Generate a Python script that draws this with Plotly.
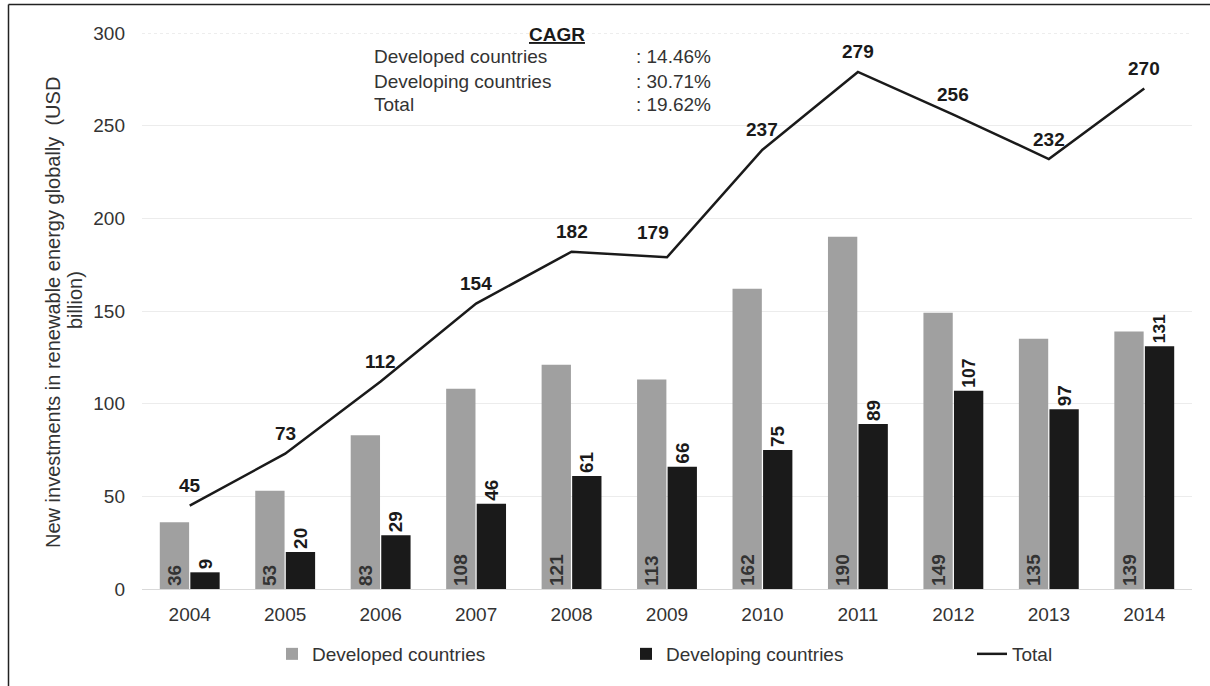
import plotly.graph_objects as go

# Yearly investment data (USD billion)
years = ["2004", "2005", "2006", "2007", "2008", "2009", "2010", "2011", "2012", "2013", "2014"]
developed = [36, 53, 83, 108, 121, 113, 162, 190, 149, 135, 139]
developing = [9, 20, 29, 46, 61, 66, 75, 89, 107, 97, 131]
total = [45, 73, 112, 154, 182, 179, 237, 279, 256, 232, 270]

y_ticks = [0, 50, 100, 150, 200, 250, 300]

cagr_labels = ["Developed countries", "Developing countries", "Total"]
cagr_values = [": 14.46%", ": 30.71%", ": 19.62%"]

FONT = "Liberation Sans, Arial, sans-serif"
GRAY = "#a0a0a0"
DARK = "#1a1a1a"
TEXT = "#333333"
FS = 19

# plot-area geometry in pixels
W, H = 1210, 686
L, R, T, B = 142, 18, 33, 97
pw, ph = W - L - R, H - T - B


def px_x(x):
    return (x - L) / pw


def px_y(y):
    return (H - B - y) / ph


fig = go.Figure()

fig.add_trace(go.Bar(
    x=years, y=developed, name="Developed countries",
    marker=dict(color=GRAY, line=dict(width=0)),
    text=[str(v) for v in developed], textposition="inside",
    insidetextanchor="start", textangle=-90,
    textfont=dict(family=FONT, size=FS, color=TEXT, weight="bold"),
    legend="legend",
))

fig.add_trace(go.Bar(
    x=years, y=developing, name="Developing countries",
    marker=dict(color=DARK, line=dict(width=0)),
    text=[str(v) for v in developing], textposition="outside",
    textangle=-90,
    textfont=dict(family=FONT, size=FS, color=DARK, weight="bold"),
    legend="legend2",
))

fig.add_trace(go.Scatter(
    x=years, y=total, name="Total", mode="lines",
    line=dict(color=DARK, width=2.5),
    legend="legend3",
))

annotations = []

# value labels above the Total line (category axis: x is the category index)
label_dx = {"2009": -14}
label_dy = {"2009": 25}
for i, (yr, v) in enumerate(zip(years, total)):
    annotations.append(dict(
        x=i, y=v, xref="x", yref="y", text=f"<b>{v}</b>", showarrow=False,
        xanchor="center", yanchor="middle",
        xshift=label_dx.get(yr, 0), yshift=label_dy.get(yr, 20),
        font=dict(family=FONT, size=FS, color=DARK)))

# CAGR box
annotations.append(dict(x=px_x(557), y=px_y(35), xref="paper", yref="paper",
                        text="<b><u>CAGR</u></b>", showarrow=False,
                        font=dict(family=FONT, size=FS, color=DARK),
                        xanchor="center", yanchor="middle"))
row_y = [57, 81, 105]
for lab, val, yy in zip(cagr_labels, cagr_values, row_y):
    annotations.append(dict(x=px_x(372), y=px_y(yy), xref="paper", yref="paper",
                            text=lab, showarrow=False,
                            font=dict(family=FONT, size=FS, color=TEXT),
                            xanchor="left", yanchor="middle"))
    annotations.append(dict(x=px_x(634), y=px_y(yy), xref="paper", yref="paper",
                            text=val, showarrow=False,
                            font=dict(family=FONT, size=FS, color=TEXT),
                            xanchor="left", yanchor="middle"))

# y-axis title, two rotated lines
annotations.append(dict(x=px_x(53), y=px_y(313), xref="paper", yref="paper",
                        text="New investments in renewable energy globally  (USD",
                        textangle=-90, showarrow=False,
                        font=dict(family=FONT, size=20, color=TEXT),
                        xanchor="center", yanchor="middle"))
annotations.append(dict(x=px_x(75), y=px_y(300), xref="paper", yref="paper",
                        text="billion)", textangle=-90, showarrow=False,
                        font=dict(family=FONT, size=20, color=TEXT),
                        xanchor="center", yanchor="middle"))

shapes = [
    # outer frame (left and top edges visible)
    dict(type="line", xref="paper", yref="paper",
         x0=px_x(8.5), x1=px_x(8.5), y0=px_y(4.5), y1=px_y(700),
         line=dict(color="#222222", width=1.5)),
    dict(type="line", xref="paper", yref="paper",
         x0=px_x(8.5), x1=px_x(1215), y0=px_y(4.5), y1=px_y(4.5),
         line=dict(color="#222222", width=1.5)),
    # faint dotted gridline at the top of the value axis
    dict(type="line", xref="paper", yref="y", x0=0, x1=1, y0=300, y1=300,
         line=dict(color="#dcdcdc", width=1, dash="dot")),
]

legend_common = dict(orientation="h", xanchor="left", yanchor="middle",
                     font=dict(family=FONT, size=FS, color=TEXT),
                     bgcolor="rgba(0,0,0,0)", itemwidth=30,
                     tracegroupgap=0, yref="paper")

fig.update_layout(
    width=W, height=H,
    margin=dict(l=L, r=R, t=T, b=B),
    paper_bgcolor="white", plot_bgcolor="white",
    barmode="group", bargap=0.36, bargroupgap=0.04,
    font=dict(family=FONT, size=FS, color=TEXT),
    showlegend=True,
    legend=dict(x=px_x(272), y=px_y(654), **legend_common),
    legend2=dict(x=px_x(626), y=px_y(654), **legend_common),
    legend3=dict(x=px_x(972), y=px_y(654), **legend_common),
    xaxis=dict(type="category", showgrid=False, showline=True,
               linecolor="#d9d9d9", linewidth=1,
               ticks="", ticklabelstandoff=8,
               tickfont=dict(family=FONT, size=FS, color=TEXT)),
    yaxis=dict(range=[0, 300], tickvals=y_ticks,
               showgrid=True, gridcolor="#ececec", gridwidth=1,
               zeroline=False, showline=False, ticks="", ticklabelstandoff=16,
               tickfont=dict(family=FONT, size=FS, color=TEXT)),
    annotations=annotations,
    shapes=shapes,
    uniformtext=dict(mode=False),
)

fig.write_html("out.html")
